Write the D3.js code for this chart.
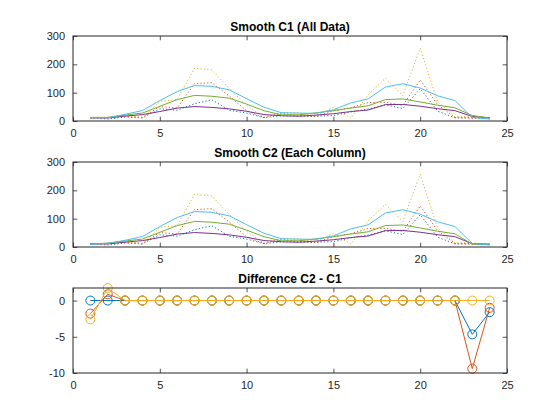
<!DOCTYPE html>
<html>
<head>
<meta charset="utf-8">
<script src="https://cdn.jsdelivr.net/npm/d3@7"></script>
<style>
  body { margin: 0; background: #fff; }
  text { font-family: "Liberation Sans", Arial, Helvetica, sans-serif; fill: #262626; }
  .title { font-weight: bold; font-size: 12px; fill: #000; }
  .tick text { font-size: 11px; }
</style>
</head>
<body>
<div id="chart"></div>
<script>
// count.dat, one array per column
var hours = d3.range(1, 25);
var count1 = [11, 7, 14, 11, 43, 38, 61, 75, 38, 28, 12, 18, 18, 17, 19, 32, 42, 57, 44, 114, 35, 11, 13, 10];
var count2 = [11, 13, 17, 13, 51, 46, 132, 135, 88, 36, 12, 27, 19, 15, 36, 47, 65, 66, 55, 145, 58, 12, 9, 9];
var count3 = [9, 11, 20, 9, 69, 76, 186, 180, 115, 55, 14, 30, 29, 18, 48, 10, 92, 151, 90, 257, 68, 15, 15, 7];

// C1: smoothed over all data
var c1a = [11, 10.667, 17.2, 22.6, 33.4, 45.6, 51, 48, 42.8, 34.2, 22.8, 18.6, 16.8, 20.8, 25.6, 33.4, 38.8, 57.8, 58.4, 52.2, 43.4, 36.6, 16, 11.6];
var c1b = [12.8, 12.8, 21, 28, 51.8, 75.4, 90.4, 87.4, 80.6, 59.6, 36.4, 21.8, 21.8, 28.8, 36.4, 45.8, 53.8, 75.6, 77.8, 67.2, 55.8, 46.6, 19.4, 10];
var c1c = [11.6, 11.6, 23.6, 37, 72, 104, 125.2, 122.4, 110, 78.8, 48.6, 29.2, 27.8, 27, 39.4, 63.8, 78.2, 120, 131.6, 116.2, 89, 72.4, 12.333, 7];

// C2: smoothed column by column
var c2a = [11, 10.667, 17.2, 22.6, 33.4, 45.6, 51, 48, 42.8, 34.2, 22.8, 18.6, 16.8, 20.8, 25.6, 33.4, 38.8, 57.8, 58.4, 52.2, 43.4, 36.6, 11.333, 10];
var c2b = [11, 13.667, 21, 28, 51.8, 75.4, 90.4, 87.4, 80.6, 59.6, 36.4, 21.8, 21.8, 28.8, 36.4, 45.8, 53.8, 75.6, 77.8, 67.2, 55.8, 46.6, 10, 9];
var c2c = [9, 13.333, 23.6, 37, 72, 104, 125.2, 122.4, 110, 78.8, 48.6, 29.2, 27.8, 27, 39.4, 63.8, 78.2, 120, 131.6, 116.2, 89, 72.4, 12.333, 7];

// C2 - C1
var diffA = [0, 0, 0, 0, 0, 0, 0, 0, 0, 0, 0, 0, 0, 0, 0, 0, 0, 0, 0, 0, 0, 0, -4.667, -1.6];
var diffB = [-1.8, 0.867, 0, 0, 0, 0, 0, 0, 0, 0, 0, 0, 0, 0, 0, 0, 0, 0, 0, 0, 0, 0, -9.4, -1];
var diffC = [-2.6, 1.733, 0, 0, 0, 0, 0, 0, 0, 0, 0, 0, 0, 0, 0, 0, 0, 0, 0, 0, 0, 0, 0, 0];

var xTicks = [0, 5, 10, 15, 20, 25];
var yTicksTop = [0, 100, 200, 300];
var yTicksDiff = [-10, -5, 0];

var colors = ['#0072BD', '#D95319', '#EDB120', '#7E2F8E', '#77AC30', '#4DBEEE'];

var width = 560, height = 420;
var left = 73, right = 507;

var svg = d3.select('#chart').append('svg')
  .attr('width', width)
  .attr('height', height);

var x = d3.scaleLinear().domain([0, 25]).range([left, right]);
var fmt = function(d) { return String(d); }; // plain hyphen minus like MATLAB

function panel(top, bottom, ydomain, yticks, title) {
  var y = d3.scaleLinear().domain(ydomain).range([bottom, top]);
  var g = svg.append('g');

  g.append('rect')
    .attr('x', left).attr('y', top)
    .attr('width', right - left).attr('height', bottom - top)
    .attr('fill', '#fff');

  var plot = g.append('g');

  // axes with inward ticks, box on
  g.append('g').attr('class', 'axis')
    .attr('transform', 'translate(0,' + bottom + ')')
    .call(d3.axisBottom(x).tickValues(xTicks).tickFormat(fmt).tickSizeInner(-4.3).tickSizeOuter(0).tickPadding(8));
  g.append('g').attr('class', 'axis')
    .attr('transform', 'translate(0,' + top + ')')
    .call(d3.axisTop(x).tickValues(xTicks).tickSizeInner(-4.3).tickSizeOuter(0).tickFormat(''));
  g.append('g').attr('class', 'axis')
    .attr('transform', 'translate(' + left + ',0)')
    .call(d3.axisLeft(y).tickValues(yticks).tickFormat(fmt).tickSizeInner(-4.3).tickSizeOuter(0).tickPadding(8));
  g.append('g').attr('class', 'axis')
    .attr('transform', 'translate(' + right + ',0)')
    .call(d3.axisRight(y).tickValues(yticks).tickSizeInner(-4.3).tickSizeOuter(0).tickFormat(''));

  g.selectAll('.axis .domain').remove();
  g.selectAll('.axis line').attr('stroke', '#262626').attr('stroke-width', 0.8);
  g.selectAll('.axis text').attr('fill', '#262626');

  g.append('rect')
    .attr('x', left).attr('y', top)
    .attr('width', right - left).attr('height', bottom - top)
    .attr('fill', 'none').attr('stroke', '#262626').attr('stroke-width', 1);

  g.append('text').attr('class', 'title')
    .attr('x', (left + right) / 2).attr('y', top - 5.5)
    .attr('text-anchor', 'middle')
    .text(title);

  return { plot: plot, y: y };
}

function drawLine(p, values, color, dash) {
  var line = d3.line().x(function(d, i) { return x(hours[i]); }).y(function(d) { return p.y(d); });
  p.plot.append('path')
    .datum(values)
    .attr('d', line)
    .attr('fill', 'none')
    .attr('stroke', color)
    .attr('stroke-width', 1)
    .attr('stroke-dasharray', dash ? '1.2,2.2' : null);
}

// Smooth C1
var p1 = panel(36, 121, [0, 300], yTicksTop, 'Smooth C1 (All Data)');
[count1, count2, count3].forEach(function(s, i) { drawLine(p1, s, colors[i], true); });
[c1a, c1b, c1c].forEach(function(s, i) { drawLine(p1, s, colors[i + 3], false); });

// Smooth C2
var p2 = panel(162, 247, [0, 300], yTicksTop, 'Smooth C2 (Each Column)');
[count1, count2, count3].forEach(function(s, i) { drawLine(p2, s, colors[i], true); });
[c2a, c2b, c2c].forEach(function(s, i) { drawLine(p2, s, colors[i + 3], false); });

// Difference
var p3 = panel(288, 373, [-10, 1.733], yTicksDiff, 'Difference C2 - C1');
[diffA, diffB, diffC].forEach(function(s, i) {
  drawLine(p3, s, colors[i], false);
  p3.plot.selectAll(null)
    .data(s)
    .enter().append('circle')
    .attr('cx', function(d, j) { return x(hours[j]); })
    .attr('cy', function(d) { return p3.y(d); })
    .attr('r', 4.5)
    .attr('fill', 'none')
    .attr('stroke', colors[i])
    .attr('stroke-width', 1);
});
</script>
</body>
</html>
